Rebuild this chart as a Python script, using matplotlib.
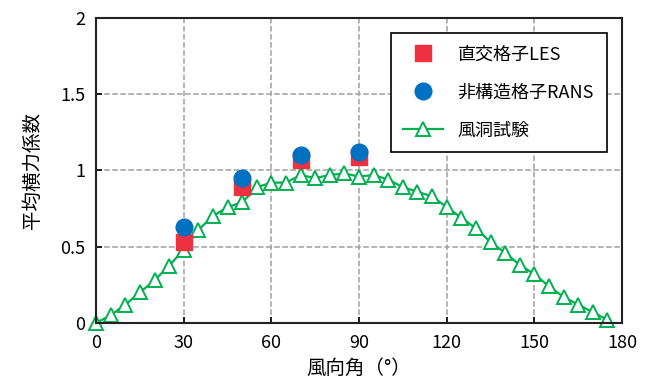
import matplotlib.pyplot as plt

plt.rcParams['font.family'] = ['Noto Sans CJK JP', 'DejaVu Sans']

# wind tunnel data, every 5 deg
angle_exp = list(range(0, 180, 5))
cf_exp = [0.00, 0.05, 0.12, 0.20, 0.28, 0.375, 0.48, 0.61, 0.70, 0.76,
          0.79, 0.89, 0.92, 0.92, 0.97, 0.95, 0.97, 0.98, 0.96, 0.97,
          0.94, 0.89, 0.86, 0.83, 0.76, 0.69, 0.62, 0.53, 0.46, 0.38,
          0.32, 0.24, 0.17, 0.12, 0.07, 0.02]

# CFD results
angle_cfd = [30, 50, 70, 90]
cf_les = [0.53, 0.89, 1.07, 1.09]
cf_rans = [0.63, 0.95, 1.10, 1.12]

fig = plt.figure(figsize=(6.54, 3.83), dpi=100)
ax = fig.add_axes([0.147, 0.157, 0.804, 0.796])

ax.plot(angle_cfd, cf_les, 's', color='#EE3040', markersize=12, label='直交格子LES', zorder=3)
ax.plot(angle_cfd, cf_rans, 'o', color='#0070C0', markersize=12, label='非構造格子RANS', zorder=4)
ax.plot(angle_exp, cf_exp, '-^', color='#00B050', markerfacecolor='white',
        markersize=10, markeredgewidth=1.4, linewidth=1.6, label='風洞試験',
        zorder=2, clip_on=False)

ax.set_xlim(0, 180)
ax.set_ylim(0, 2)
ax.set_xticks(range(0, 181, 30))
ax.set_yticks([0, 0.5, 1, 1.5, 2])
ax.set_yticklabels(['0', '0.5', '1', '1.5', '2'])
ax.tick_params(direction='in', labelsize=13, length=4, width=1.2, pad=8)
ax.grid(True, color='#A0A0A0', linestyle='--', linewidth=1.1)
for s in ax.spines.values():
    s.set_linewidth(1.5)
    s.set_color('#222222')

ax.set_xlabel('風向角（°）', fontsize=14, labelpad=4)
ax.set_ylabel('平均横力係数', fontsize=14, labelpad=12)

leg = ax.legend(loc='upper right', fontsize=13, fancybox=False, framealpha=1,
                edgecolor='black', borderpad=0.7, labelspacing=1.1,
                handlelength=2.2, bbox_to_anchor=(0.988, 0.98))
leg.get_frame().set_linewidth(1.2)

fig.savefig('out.png', dpi=100)
